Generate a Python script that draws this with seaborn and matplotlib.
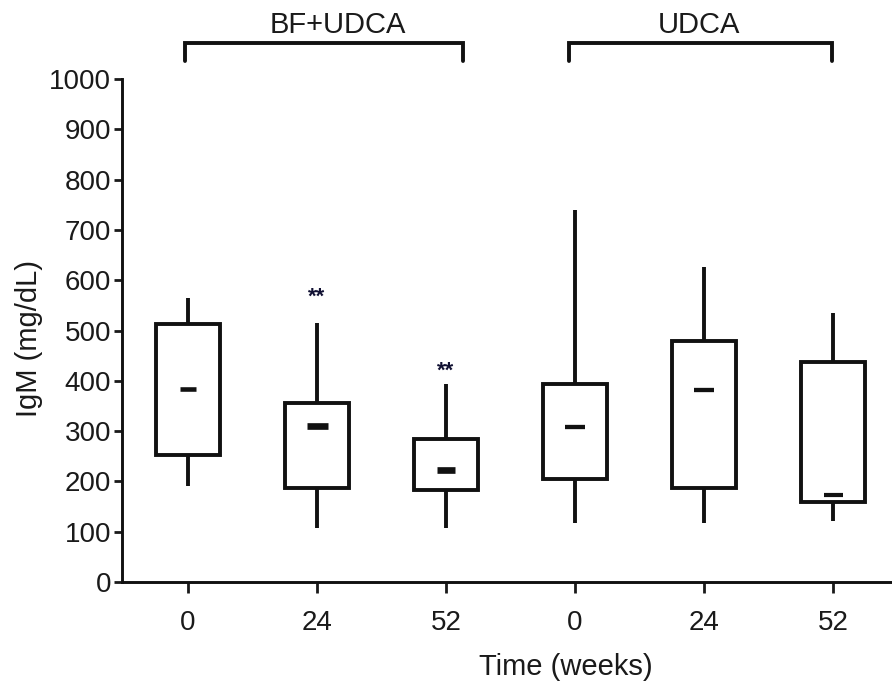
import numpy as np
import pandas as pd
import matplotlib
matplotlib.use("Agg")
import matplotlib.pyplot as plt
import seaborn as sns

# Five-number summaries of serum IgM (mg/dL) per treatment arm and time point
groups = ["BF+UDCA", "BF+UDCA", "BF+UDCA", "UDCA", "UDCA", "UDCA"]
weeks = ["0", "24", "52", "0", "24", "52"]
igm_min = [191, 107, 107, 117, 117, 121]
igm_q1 = [252, 187, 183, 205, 187, 159]
igm_median = [384, 310, 223, 308, 382, 173]
igm_q3 = [513, 356, 284, 394, 479, 437]
igm_max = [565, 515, 394, 740, 626, 535]

# Significance marks (vs. week 0) and where they sit
sig_index = [1, 2]
sig_text = ["**", "**"]
sig_y = [566, 420]

# Arm brackets above the plot: (label, x start, x end, label x)
arm_labels = ["BF+UDCA", "UDCA"]
arm_start = [-0.02, 2.95]
arm_end = [2.13, 4.99]
arm_label_x = [1.16, 3.96]

sns.set_style("ticks")
plt.rcParams["font.family"] = ["Liberation Sans", "DejaVu Sans"]
plt.rcParams["text.color"] = "#1a1a1a"
plt.rcParams["axes.labelcolor"] = "#1a1a1a"
plt.rcParams["xtick.color"] = "#1a1a1a"
plt.rcParams["ytick.color"] = "#1a1a1a"

# Long-form table: with five sorted points the quartiles land exactly on q1/median/q3
rows = []
for i in range(len(groups)):
    for v in (igm_min[i], igm_q1[i], igm_median[i], igm_q3[i], igm_max[i]):
        rows.append({"slot": i, "IgM": v})
df = pd.DataFrame(rows)

fig = plt.figure(figsize=(8.92, 6.87), dpi=100)
ax = fig.add_axes([0.1368, 0.1528, 0.8632, 0.7322])

lw = 2.8
sns.boxplot(
    data=df, x="slot", y="IgM", ax=ax,
    whis=(0, 100), width=0.49, color="white", linecolor="#111111",
    linewidth=lw, showcaps=False, showfliers=False,
    medianprops={"linewidth": 0},
)

# Short, thick median bars
pos = np.arange(len(groups))
median_lw = [3.3, 4.8, 4.8, 3.1, 3.1, 3.0]
median_half = [0.065, 0.081, 0.07, 0.08, 0.078, 0.074]
for p, m, w, h in zip(pos, igm_median, median_lw, median_half):
    ax.hlines(m, p - h, p + h, colors="#111111", linewidth=w, zorder=5)

for idx, txt, y in zip(sig_index, sig_text, sig_y):
    ax.text(pos[idx], y, txt, ha="center", va="center", fontsize=16,
            fontweight="bold", color="#111133")

# Brackets grouping the time points by treatment arm
br_top, br_bottom, label_base = 1071, 1036, 1092
for lab, a, b, lx in zip(arm_labels, arm_start, arm_end, arm_label_x):
    ax.plot([a, a, b, b], [br_bottom, br_top, br_top, br_bottom],
            color="#111111", linewidth=2.8, clip_on=False,
            solid_joinstyle="miter")
    ax.text(lx, label_base, lab, ha="center", va="baseline", fontsize=21)

ax.set_xlim(-0.512, 5.457)
ax.set_ylim(0, 1000)
ax.set_yticks(np.arange(0, 1001, 100))
ax.set_xticks(pos)
ax.set_xticklabels(weeks)
ax.tick_params(axis="both", labelsize=20, width=2.0, direction="out")
ax.tick_params(axis="y", length=6, pad=2)
ax.tick_params(axis="x", length=8, pad=12)

ax.set_xlabel("Time (weeks)", fontsize=21)
ax.set_ylabel("IgM (mg/dL)", fontsize=21)
ax.xaxis.set_label_coords(0.577, -0.142)
ax.yaxis.set_label_coords(-0.103, 0.485)

sns.despine(ax=ax)
for s in ("left", "bottom"):
    ax.spines[s].set_linewidth(2.1)
    ax.spines[s].set_color("#111111")

fig.savefig("out.png", dpi=100)
